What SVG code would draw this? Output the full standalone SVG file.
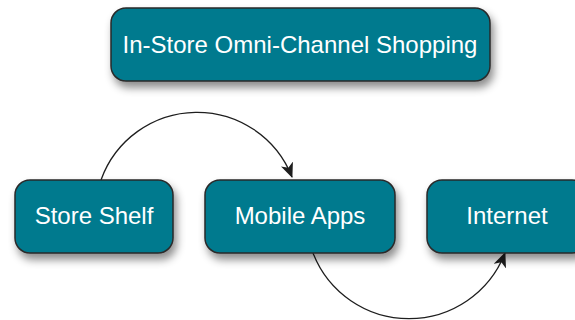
<svg xmlns="http://www.w3.org/2000/svg" width="575" height="320" viewBox="0 0 575 320">
<style>
.box{fill:#007A8E;stroke:#2a2a2a;stroke-width:1.5;filter:url(#sh)}
.lbl{font-family:"Liberation Sans",Arial,sans-serif;font-size:24px;fill:#ffffff;text-anchor:middle}
.conn{fill:none;stroke:#1e1e1e;stroke-width:1.3;marker-end:url(#arr)}
</style>
<defs>
<filter id="sh" x="-20%" y="-30%" width="150%" height="180%">
<feDropShadow dx="3" dy="6" stdDeviation="4.5" flood-color="#000" flood-opacity="0.45"/>
</filter>
<marker id="arr" viewBox="0 0 15 13" refX="14" refY="6.5" markerWidth="15" markerHeight="13" markerUnits="userSpaceOnUse" orient="auto">
<path d="M0,0 L15,6.5 L0,13 L4,6.5 Z" fill="#1e1e1e"/>
</marker>
</defs>
<rect width="575" height="320" fill="#ffffff"/>
<g id="connectors">
<path class="conn" d="M101,180 A102,102 0 0,1 292,177"/>
<path class="conn" d="M313,253 A103,103 0 0,0 505,253"/>
</g>
<g id="omni">
<rect class="box" x="111" y="8" width="379" height="73" rx="15"/>
<text class="lbl" x="300" y="53">In-Store Omni-Channel Shopping</text>
</g>
<g id="shelf">
<rect class="box" x="15" y="180" width="158" height="73" rx="15"/>
<text class="lbl" x="94" y="224">Store Shelf</text>
</g>
<g id="mobile">
<rect class="box" x="205" y="180" width="190" height="73" rx="15"/>
<text class="lbl" x="300" y="224">Mobile Apps</text>
</g>
<g id="internet">
<rect class="box" x="427" y="180" width="160" height="73" rx="15"/>
<text class="lbl" x="507" y="224">Internet</text>
</g>
</svg>
